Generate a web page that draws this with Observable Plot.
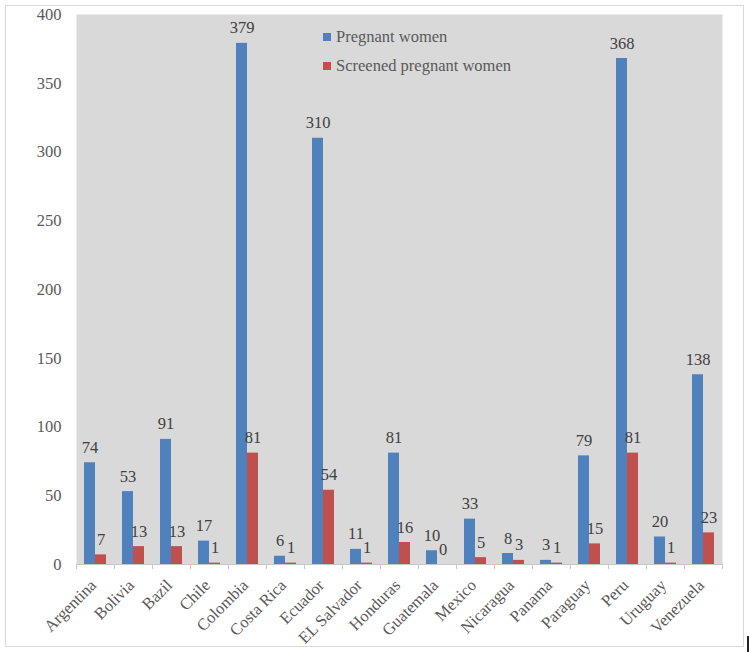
<!DOCTYPE html>
<html><head><meta charset="utf-8">
<script src="https://cdn.jsdelivr.net/npm/d3@7"></script>
<script src="https://cdn.jsdelivr.net/npm/@observablehq/plot@0.6"></script>
<style>
body{margin:0;background:#fff;}
#wrap{position:relative;width:750px;height:652px;overflow:hidden;}
#border{position:absolute;left:5px;top:5px;width:739px;height:642px;border:1px solid #d9d9d9;box-sizing:border-box;}
#chart{position:absolute;left:0;top:0;}
#legend{position:absolute;left:323px;top:22px;font-family:"Liberation Serif",serif;font-size:16.5px;color:#595959;}
.lr{display:flex;align-items:center;height:29px;}
.sw{width:8px;height:8px;margin-right:5px;}
#mark{position:absolute;left:747px;top:636px;width:2px;height:16px;background:#222;}
</style></head>
<body><div id="wrap"><div id="border"></div><div id="chart"></div><div id="legend"></div><div id="mark"></div></div>
<script>
const countries = ["Argentina","Bolivia","Bazil","Chile","Colombia","Costa Rica","Ecuador","EL Salvador","Honduras","Guatemala","Mexico","Nicaragua","Panama","Paraguay","Peru","Uruguay","Venezuela"];
const series = ["Pregnant women","Screened pregnant women"];
const pregnant = [74,53,91,17,379,6,310,11,81,10,33,8,3,79,368,20,138];
const screened = [7,13,13,1,81,1,54,1,16,0,5,3,1,15,81,1,23];
const yTicks = [0,50,100,150,200,250,300,350,400];
const colors = ["#4f81bd","#c0504d"];

const rowsP = countries.map((c,i)=>({country:c, series:series[0], value:pregnant[i]}));
const rowsS = countries.map((c,i)=>({country:c, series:series[1], value:screened[i]}));

const font = '"Liberation Serif", serif';
const chart = Plot.plot({
  width: 750,
  height: 652,
  marginLeft: 76,
  marginRight: 28,
  marginTop: 14,
  marginBottom: 88,
  style: {fontFamily: font, fontSize: "16.5px", background: "transparent"},
  x: {domain: countries, padding: 0, label: null},
  y: {domain: [0, 400], label: null},
  marks: [
    Plot.frame({fill: "#d9d9d9", stroke: null}),
    Plot.barY(rowsP, {x: "country", y: "value", fill: colors[0], insetLeft: 8, insetRight: 19}),
    Plot.barY(rowsS, {x: "country", y: "value", fill: colors[1], insetLeft: 19, insetRight: 8}),
    Plot.text(rowsP, {x: "country", y: "value", text: d => String(d.value), dx: -5.5, dy: -10, lineAnchor: "bottom", fill: "#404040"}),
    Plot.text(rowsS, {x: "country", y: "value", text: d => String(d.value), dx: 5.5, dy: -10, lineAnchor: "bottom", fill: "#404040"}),
    Plot.ruleY([0], {stroke: "#c8c8c8"}),
    Plot.ruleX(countries, {x: d => d, dx: -19, y1: 0, y2: 0, insetBottom: -5, stroke: "#c8c8c8"}),
    Plot.ruleX([countries[countries.length-1]], {x: d => d, dx: 19, y1: 0, y2: 0, insetBottom: -5, stroke: "#c8c8c8"}),
    Plot.axisY({ticks: yTicks, tickSize: 0, tickPadding: 15, color: "#595959", tickFormat: d => String(d)}),
    Plot.axisX({tickRotate: -45, tickSize: 0, tickPadding: 18, dx: -2, color: "#595959"})
  ]
});
document.getElementById("chart").appendChild(chart);

const legend = document.getElementById("legend");
series.forEach((s,i)=>{
  const r = document.createElement("div"); r.className = "lr";
  const sw = document.createElement("div"); sw.className = "sw"; sw.style.background = colors[i];
  const t = document.createElement("span"); t.textContent = s;
  r.appendChild(sw); r.appendChild(t); legend.appendChild(r);
});
</script></body></html>
